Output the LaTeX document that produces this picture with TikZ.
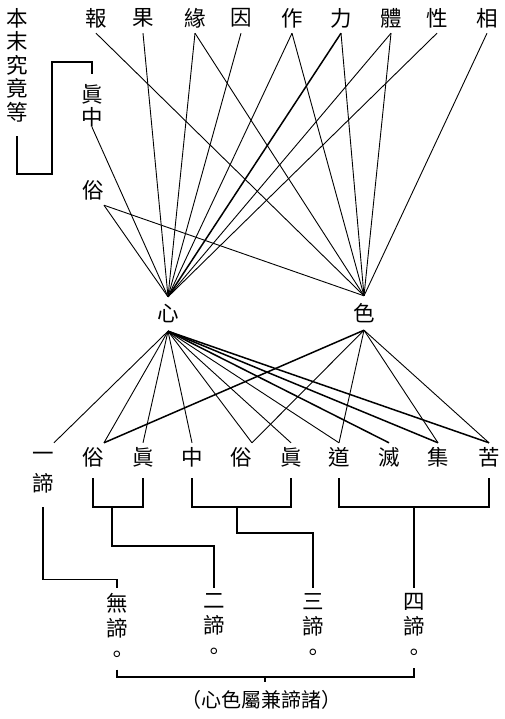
\documentclass[tikz,border=0pt]{standalone}
\usepackage{fontspec}
\setmainfont{Noto Sans CJK TC}
\usetikzlibrary{positioning}

\begin{document}
\begin{tikzpicture}[
    x=1pt, y=-1pt,
    char/.style={font=\fontsize{21.5}{21.5}\selectfont, inner sep=0pt, minimum height=30pt},
    row/.style={char, minimum height=28pt},
    hub/.style={char, minimum height=34pt},
    col/.style={font=\fontsize{21.5}{25.5}\selectfont, align=center, inner sep=0pt, anchor=north},
    ln/.style={line width=0.9pt},
    bold/.style={line width=1.5pt},
    brk/.style={line width=1.2pt},
  ]
    \useasboundingbox (0,0) rectangle (505,719);

    % top row
    \node[char] (bao)   at (96,18)  {報};
    \node[char] (guo)   at (143,18) {果};
    \node[char] (yuan)  at (195,18) {緣};
    \node[char] (yin)   at (241,18) {因};
    \node[char] (zuo)   at (292,18) {作};
    \node[char] (li)    at (341,18) {力};
    \node[char] (ti)    at (391,18) {體};
    \node[char] (xing)  at (437,18) {性};
    \node[char] (xiang) at (487,18) {相};

    % left side
    \node[col, font=\fontsize{21.5}{23.5}\selectfont] (benmo) at (17,8) {本\\末\\究\\竟\\等};
    \node[col, font=\fontsize{21.5}{23}\selectfont] (zz) at (92,84) {眞\\中};
    \node[char] (su) at (93,190) {俗};

    % hubs
    \node[hub] (xin) at (168,314) {心};
    \node[hub] (se)  at (364,313) {色};

    % bottom row
    \node[row] (yi)    at (43,457)  {一};
    \node[char] (yidi) at (43,483)  {諦};
    \node[row] (su1)   at (93,457)  {俗};
    \node[row] (zhen1) at (143,457) {眞};
    \node[row] (zhong) at (192,457) {中};
    \node[row] (su2)   at (241,457) {俗};
    \node[row] (zhen2) at (291,457) {眞};
    \node[row] (dao)   at (339,457) {道};
    \node[row] (mie)   at (389,457) {滅};
    \node[row] (ji)    at (438,457) {集};
    \node[row] (ku)    at (489,457) {苦};

    % groups of truths
    \node[col] (wudi)  at (117,593) {無\\諦\\。};
    \node[col] (erdi)  at (214,593) {二\\諦\\。};
    \node[col] (sandi) at (313,593) {三\\諦\\。};
    \node[col] (sidi)  at (414,593) {四\\諦\\。};
    \node[font=\fontsize{20}{20}\selectfont, inner sep=0pt] (note) at (261,700) {（心色屬兼諦諸）};

    % bracket to the middle
    \draw[brk, shorten <=14pt, shorten >=10pt] (benmo.south) |- (52,174)
      |- ([yshift=22pt]zz.north) -- (zz.north);

    % upper lines to xin
    \draw[ln]   (guo.south)  -- (xin.north);
    \draw[ln]   (yuan.south) -- (xin.north);
    \draw[ln]   (yin.south)  -- (xin.north);
    \draw[ln]   (zuo.south)  -- (xin.north);
    \draw[bold] (li.south)   -- (xin.north);
    \draw[ln]   (ti.south)   -- (xin.north);
    \draw[ln]   (xing.south) -- (xin.north);
    \draw[ln]   (zz.south)   -- (xin.north);
    \draw[ln]   (su.south east) -- (xin.north);

    % upper lines to se
    \draw[ln] (bao.south)   -- (se.north);
    \draw[ln] (yuan.south)  -- (se.north);
    \draw[ln] (zuo.south)   -- (se.north);
    \draw[ln] (li.south)    -- (se.north);
    \draw[ln] (ti.south)    -- (se.north);
    \draw[ln] (xiang.south) -- (se.north);
    \draw[ln] (su.south east) -- (se.north);

    % lower lines from xin
    \draw[ln]   (xin.south) -- (yi.north east);
    \draw[ln]   (xin.south) -- (su1.north east);
    \draw[ln]   (xin.south) -- (zhen1.north);
    \draw[ln]   (xin.south) -- (zhong.north);
    \draw[ln]   (xin.south) -- (su2.north east);
    \draw[ln]   (xin.south) -- (zhen2.north);
    \draw[ln]   (xin.south) -- (dao.north);
    \draw[bold] (xin.south) -- (mie.north);
    \draw[bold] (xin.south) -- (ji.north);
    \draw[bold] (xin.south) -- (ku.north);

    % lower lines from se
    \draw[bold] (se.south) -- (su1.north east);
    \draw[ln]   (se.south) -- (su2.north east);
    \draw[ln]   (se.south) -- (dao.north);
    \draw[ln]   (se.south) -- (ji.north);
    \draw[ln]   (se.south) -- (ku.north);

    % brackets below
    \coordinate (m1) at (112,507);
    \coordinate (m2) at (237,507);
    \coordinate (m3) at (414,507);
    \coordinate (m4) at (265,677);
    \draw[brk, shorten <=7pt, shorten >=7pt] (su1.south) |- (m1) -| (zhen1.south);
    \draw[brk, shorten <=7pt, shorten >=7pt] (zhong.south) |- (m2) -| (zhen2.south);
    \draw[brk, shorten <=7pt, shorten >=7pt] (dao.south) |- (m3) -| (ku.south);

    \draw[brk, shorten <=9pt, shorten >=5pt] (yidi.south) -- ++(0,81) -| (wudi.north);
    \draw[brk, shorten >=5pt] (m1) -- ++(0,39) -| (erdi.north);
    \draw[brk, shorten >=5pt] (m2) -- ++(0,26) -| (sandi.north);
    \draw[brk, shorten >=5pt] (m3) -- (sidi.north);

    \draw[brk, shorten <=7pt, shorten >=7pt] (wudi.south) |- (m4) -| (sidi.south);
    \draw[brk, shorten >=8pt] (m4) -- (note.north -| m4);
  \end{tikzpicture}
\end{document}
